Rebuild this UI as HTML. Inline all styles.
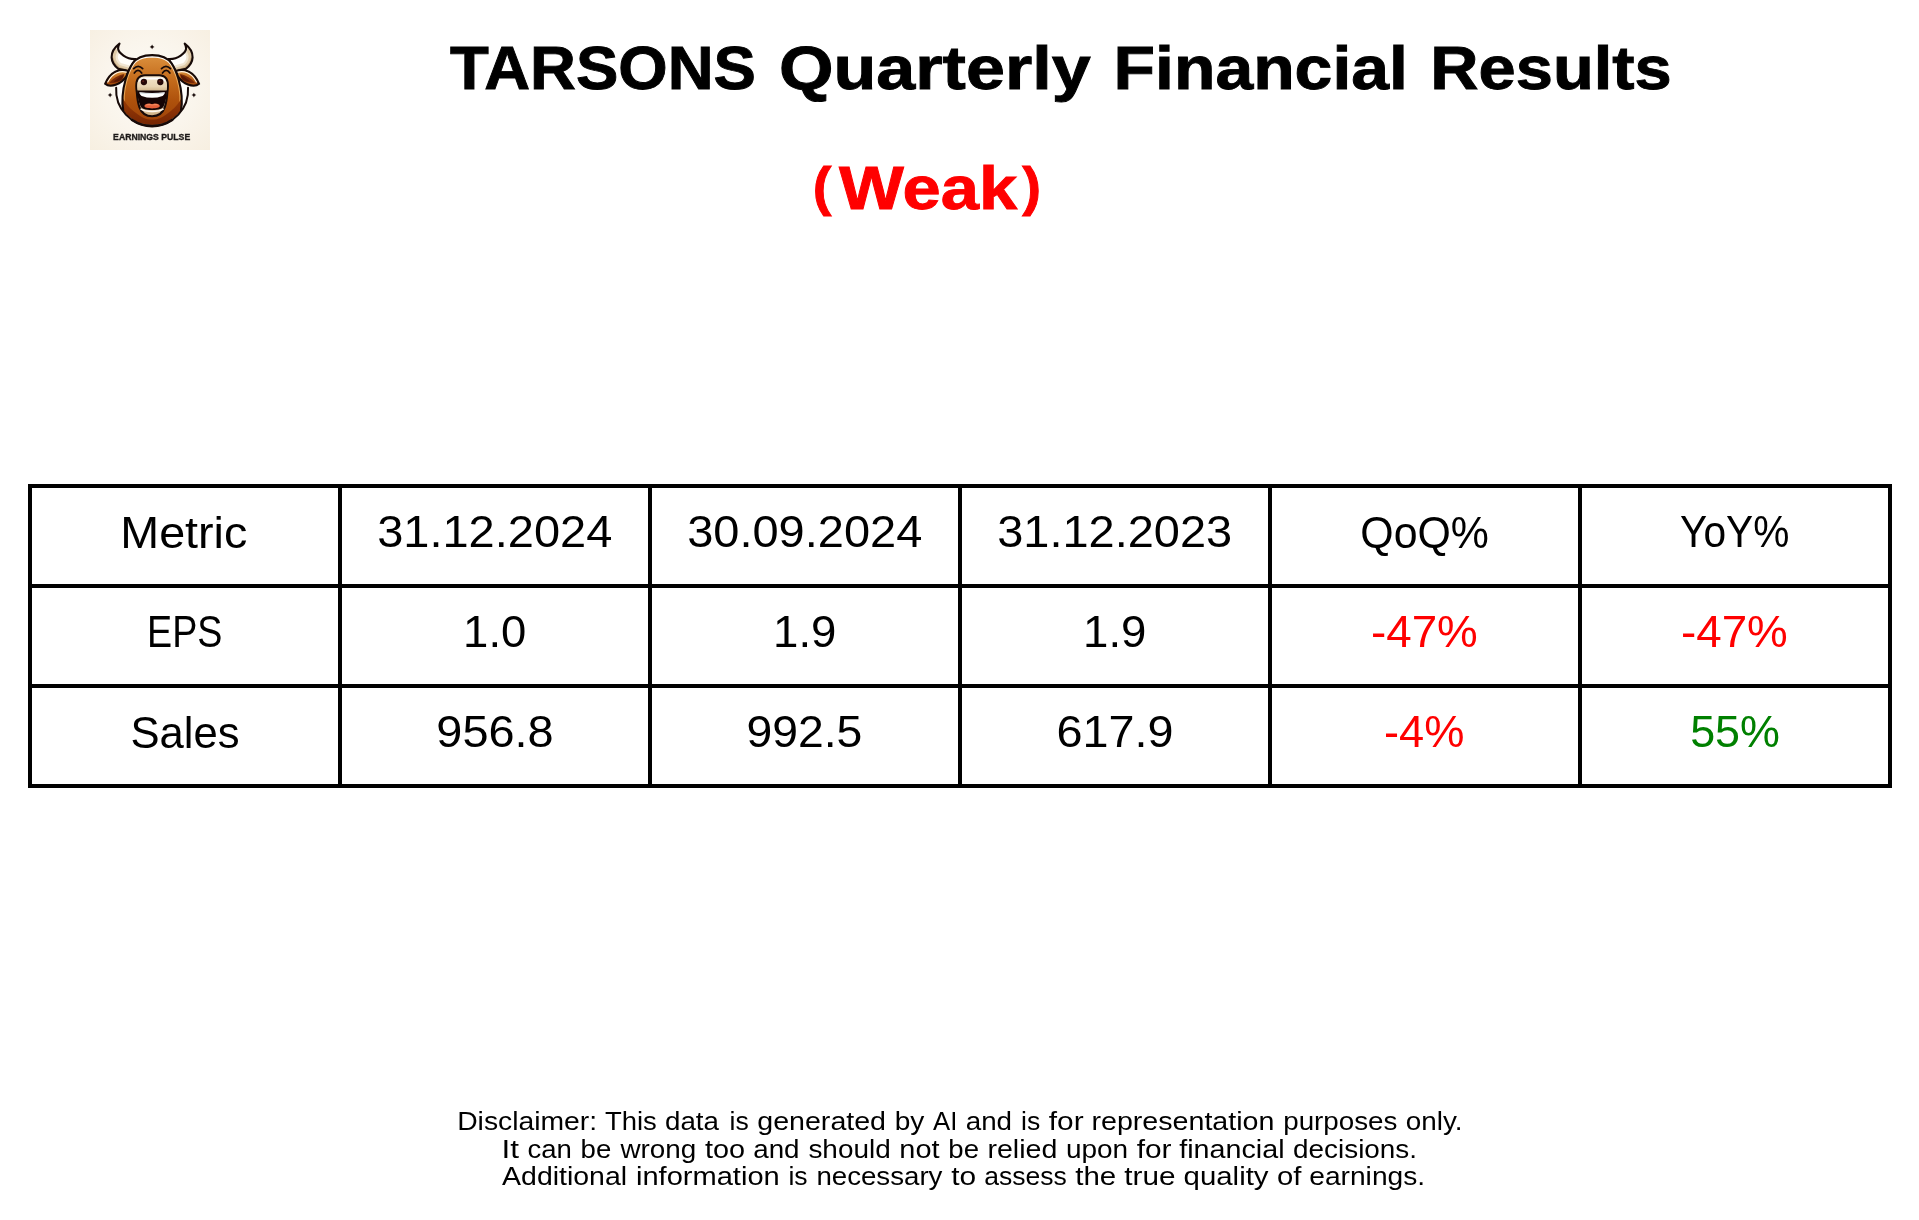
<!DOCTYPE html>
<html lang="en">
<head>
<meta charset="utf-8">
<title>TARSONS Quarterly Financial Results</title>
<style>
*{margin:0;padding:0;box-sizing:border-box}
html,body{background:#fff}
body{font-family:"Liberation Sans", sans-serif;will-change:transform}
.w{position:absolute;left:0;top:0;transform-origin:0 0;white-space:pre;line-height:1;font-kerning:normal}
html,body{width:1919px;height:1220px;overflow:hidden}
#page{position:relative;width:1919px;height:1220px;background:#fff;overflow:hidden}
#logo{position:absolute;left:90px;top:30px;width:120px;height:120px;display:block}
h1,h2,p{font-weight:inherit;font-size:inherit}
.t{font-size:60.5px;font-weight:700;color:#000;-webkit-text-stroke:0.9px currentColor}
.c{font-size:45px;font-weight:400;color:#000}
.d{font-size:26.5px;font-weight:400;color:#000}
.neg{color:#f00}
.pos{color:#008000}
table{margin:484px 0 0 28px;width:1864px;border-collapse:collapse;table-layout:fixed}
td,th{width:310px;height:100px;border:4px solid #000;font-weight:400}
</style>
</head>
<body>
<div id="page">
<svg id="logo" viewBox="0 0 120 120" width="120" height="120" role="img" aria-label="Earnings Pulse logo: laughing bull">
<defs>
<radialGradient id="lg-bg" cx="0.5" cy="0.47" r="0.72"><stop offset="0" stop-color="#fdfbf7"/><stop offset="0.55" stop-color="#faf5ec"/><stop offset="1" stop-color="#f7efe1"/></radialGradient>
<linearGradient id="lg-head" x1="0" y1="0" x2="0" y2="1"><stop offset="0" stop-color="#d98d3a"/><stop offset="0.3" stop-color="#c46c1c"/><stop offset="0.6" stop-color="#ae510c"/><stop offset="1" stop-color="#9a3f06"/></linearGradient>
<linearGradient id="lg-rim" x1="0" y1="0" x2="0" y2="1"><stop offset="0" stop-color="#ffffff"/><stop offset="0.13" stop-color="#fff4e0"/><stop offset="0.3" stop-color="#f0b263"/><stop offset="1" stop-color="#d98a34"/></linearGradient>
<linearGradient id="lg-neck" x1="0" y1="0" x2="0" y2="1"><stop offset="0" stop-color="#9c4007"/><stop offset="0.5" stop-color="#8a3205"/><stop offset="1" stop-color="#6e2102"/></linearGradient>
<linearGradient id="lg-earg" x1="0" y1="0" x2="0" y2="1"><stop offset="0" stop-color="#e09a45"/><stop offset="0.45" stop-color="#c06a1c"/><stop offset="1" stop-color="#9c4309"/></linearGradient>
<linearGradient id="lg-cream" x1="0" y1="0" x2="0" y2="1"><stop offset="0" stop-color="#f3e4c9"/><stop offset="0.7" stop-color="#e9d5b3"/><stop offset="1" stop-color="#d3b88d"/></linearGradient>
<linearGradient id="lg-jaw" x1="0" y1="0" x2="0" y2="1"><stop offset="0" stop-color="#f0dfc2"/><stop offset="0.8" stop-color="#e4cea8"/><stop offset="1" stop-color="#c9aa7c"/></linearGradient>
<clipPath id="lg-headclip"><path d="M33.2 80.2C32.4 76 32.2 71 32.6 66C33 60 34 55 35.6 49.5C37.2 44 39.2 38.5 42.6 33.4C46.5 27.6 54 25.1 62.1 25.1C70.2 25.1 77.7 27.6 81.6 33.4C85 38.5 87 44 88.6 49.5C90.2 55 91.2 60 91.6 66C92 71 91.8 76 91 80.2A36 36 0 0 1 33.2 80.2Z"/></clipPath>
<clipPath id="lg-hornclip"><path d="M29.5 13.6C24.8 17.2 21.4 22.4 21.6 27.4C21.8 32 24.6 36 28.4 38.9L38.5 41L45.5 29C41 29.2 36.8 27.9 33.5 25.6C30.4 23.4 28.3 20.6 28.1 18.6C27.9 16.8 28.6 15 29.5 13.6Z"/></clipPath>
</defs>
<rect width="120" height="120" fill="url(#lg-bg)"/>
<circle cx="62.1" cy="60" r="35.4" fill="#fefdfb"/>
<!-- horns -->
<g id="lg-hornL">
<path fill="#fffdf9" d="M29.5 13.6C24.8 17.2 21.4 22.4 21.6 27.4C21.8 32 24.6 36 28.4 38.9L38.5 41L45.5 29C41 29.2 36.8 27.9 33.5 25.6C30.4 23.4 28.3 20.6 28.1 18.6C27.9 16.8 28.6 15 29.5 13.6Z"/>
<g clip-path="url(#lg-hornclip)" fill="none" stroke-linecap="round">
<path stroke="#f1e6d2" stroke-width="12.5" d="M25.5 17.5C22.4 21 21.4 24.5 21.6 27.4C21.8 32 24.6 36 28.4 38.9L40 42"/>
<path stroke="#dfcaa8" stroke-width="8" d="M23 21.5C21.8 23.6 21.5 25.6 21.6 27.4C21.8 32 24.6 36 28.4 38.9L40 42"/>
<path stroke="#c2a57b" stroke-width="4" d="M21.8 29C22.4 33 25 36.4 28.4 38.9L40 42"/>
</g>
<path fill="none" stroke="#170a08" stroke-width="2.1" stroke-linejoin="round" d="M29.5 13.6C24.8 17.2 21.4 22.4 21.6 27.4C21.8 32 24.6 36 28.4 38.9L38.5 41L45.5 29C41 29.2 36.8 27.9 33.5 25.6C30.4 23.4 28.3 20.6 28.1 18.6C27.9 16.8 28.6 15 29.5 13.6Z"/>
</g>
<use href="#lg-hornL" transform="matrix(-1 0 0 1 124.2 0)"/>
<!-- ears -->
<g id="lg-earLg">
<path fill="url(#lg-earg)" stroke="#170a08" stroke-width="2.1" stroke-linejoin="round" d="M38 41.4C33.6 39.7 29 39.9 25.3 41.8C21.2 43.9 17.4 48.6 15.1 53.8C17.8 56.2 22.5 56 26.3 54.6C30.4 53 33.6 50.2 36.4 46.5Z"/>
<path d="M17.8 52C20.2 47.5 23.6 44.2 27 42.8C30 41.6 33.4 41.4 36.4 42.2" fill="none" stroke="#fff3df" stroke-width="1.2" stroke-linecap="round"/>
<path d="M19.4 53C22.8 48.6 28 45.3 34.2 44.1C33.8 46.6 32.8 48.8 31.4 50.4C27.6 52.5 23.4 53.3 19.4 53Z" fill="#7a2a07"/>
<path d="M23.5 51.8C26.5 49.1 30 46.6 33.8 45.1C33.4 46.9 32.6 48.6 31.4 50C28.6 51.3 26 51.8 23.5 51.8Z" fill="#581904"/>
</g>
<use href="#lg-earLg" transform="matrix(-1 0 0 1 124.2 0)"/>
<!-- head + neck -->
<path d="M33.2 80.2C32.4 76 32.2 71 32.6 66C33 60 34 55 35.6 49.5C37.2 44 39.2 38.5 42.6 33.4C46.5 27.6 54 25.1 62.1 25.1C70.2 25.1 77.7 27.6 81.6 33.4C85 38.5 87 44 88.6 49.5C90.2 55 91.2 60 91.6 66C92 71 91.8 76 91 80.2A36 36 0 0 1 33.2 80.2Z" fill="url(#lg-rim)"/>
<g clip-path="url(#lg-headclip)">
<path d="M34.8 100L34.8 66C35.2 60 36.2 55 37.6 50C39.1 44.6 41 39.6 44 35C47.6 29.6 54.4 27.8 62.1 27.8C69.8 27.8 76.6 29.6 80.2 35C83.2 39.6 85.1 44.6 86.6 50C88 55 89 60 89.4 66L89.4 100Z" fill="url(#lg-head)"/>
<path d="M30 62C32.5 69.5 37.5 76.6 43.7 81.3C46.8 83.8 49.9 86.2 52.9 87.4C56 88.9 59 89.6 62.1 89.6C65.2 89.6 68.2 88.9 71.3 87.4C74.3 86.2 77.4 83.8 80.5 81.3C86.7 76.6 91.7 69.5 94.2 62L96 100L28 100Z" fill="url(#lg-neck)"/>
</g>
<g fill="none" stroke="#170a08" stroke-linecap="round" stroke-linejoin="round">
<path stroke-width="2.1" d="M33.2 80.2C32.4 76 32.2 71 32.6 66C33 60 34 55 35.6 49.5C37.2 44 39.2 38.5 42.6 33.4C46.5 27.6 54 25.1 62.1 25.1C70.2 25.1 77.7 27.6 81.6 33.4C85 38.5 87 44 88.6 49.5C90.2 55 91.2 60 91.6 66C92 71 91.8 76 91 80.2"/>
<!-- ring -->
<path stroke-width="2" d="M26.17 57.7A36 36 0 1 0 98.03 57.7"/>
<path stroke-width="2.7" d="M42.1 90A36 36 0 0 0 82.1 90"/>
<!-- eyes -->
<g stroke-width="1.7">
<path d="M43.7 38.7Q48.2 33.9 52.7 38.7"/><path d="M44.3 43.1Q48 37.7 51.7 43.1"/>
<path d="M80.5 38.7Q76 33.9 71.5 38.7"/><path d="M79.9 43.1Q76.2 37.7 72.5 43.1"/>
</g>
</g>
<!-- muzzle: nose + mouth + jaw -->
<path d="M46.3 56C46.3 50 48 45.4 55 45.4L69.2 45.4C76.2 45.4 77.9 50 77.9 56C77.9 58.5 77.7 60 77.4 62C77 68 76.4 72.5 74.8 77.2C72.9 82.6 68.9 86.3 62.1 86.3C55.3 86.3 51.3 82.6 49.4 77.2C47.8 72.5 47.2 68 46.8 62C46.5 60 46.3 58.5 46.3 56Z" fill="url(#lg-jaw)" stroke="#170a08" stroke-width="2.1" stroke-linejoin="round"/>
<path d="M47.3 56C47.3 50.5 48.9 46.4 55 46.4L69.2 46.4C75.3 46.4 76.9 50.5 76.9 56C76.9 58 76.7 59.4 76.4 60.6L47.8 60.6C47.5 59.4 47.3 58 47.3 56Z" fill="url(#lg-cream)"/>
<path d="M48.5 52.8C48.5 48.9 50.7 47.4 55 47.4L69.2 47.4C73.5 47.4 75.7 48.9 75.7 52.8C73.9 50 71 49.6 62.1 49.6C53.2 49.6 50.3 50 48.5 52.8Z" fill="#ffffff"/>
<circle cx="53.9" cy="52" r="3.15" fill="#260a08"/><circle cx="70.3" cy="52" r="3.15" fill="#260a08"/>
<circle cx="53.2" cy="51.2" r="1.05" fill="#5a1c17"/><circle cx="69.6" cy="51.2" r="1.05" fill="#5a1c17"/>
<!-- mouth -->
<path d="M47.2 60.4L77 60.4C76.7 66 75.6 71.5 74 75.4C72.6 78.8 69.4 80 62.1 80C54.8 80 51.6 78.8 50.2 75.4C48.6 71.5 47.5 66 47.2 60.4Z" fill="#150404"/>
<path d="M49.3 62.3Q62.1 63.7 74.9 62.3C74.6 64.1 73.7 65.5 72.6 65.9Q62.1 69.6 51.6 65.9C50.5 65.5 49.6 64.1 49.3 62.3Z" fill="#ffffff"/>
<path d="M49.6 62.5Q62.1 63.9 74.6 62.5L74.3 63.4Q62.1 64.7 49.9 63.4Z" fill="#d9e0e4"/>
<path d="M54.4 76.1C54.4 74.2 57.1 73.2 59.8 73.5C61 73.65 61.6 74.2 62.1 74.2C62.6 74.2 63.2 73.65 64.4 73.5C67.1 73.2 69.8 74.2 69.8 76.1C69.8 77.6 66.4 78.4 62.1 78.4C57.8 78.4 54.4 77.6 54.4 76.1Z" fill="#e6603a"/>
<path d="M55.4 75.7C55.8 74.5 57.7 73.9 59.8 74.1C61 74.25 61.6 74.8 62.1 74.8C62.6 74.8 63.2 74.25 64.4 74.1C66.5 73.9 68.4 74.5 68.8 75.7C66.4 75 64.5 75.4 62.1 75.6C59.7 75.4 57.8 75 55.4 75.7Z" fill="#f48a5e"/>
<path d="M51 79.2C53.8 81 58 81.5 62.1 81.5C66.2 81.5 70.4 81 73.2 79.2" fill="none" stroke="#fffaf0" stroke-width="1.4" stroke-linecap="round"/>
<!-- sparkles -->
<g fill="#170a08">
<path id="lg-sp" d="M62.1 14.5Q62.5 16.5 64.5 16.9Q62.5 17.3 62.1 19.3Q61.7 17.3 59.7 16.9Q61.7 16.5 62.1 14.5Z"/>
<use href="#lg-sp" x="-42" y="48.2"/><use href="#lg-sp" x="41.8" y="48.2"/>
</g>
<text x="23.1" y="109.55" font-family="Liberation Sans, sans-serif" font-weight="700" font-size="9.6" fill="#1d1a19" stroke="#1d1a19" stroke-width="0.35" textLength="77.1" lengthAdjust="spacingAndGlyphs">EARNINGS PULSE</text>
</svg>

<h1><span class="w t" style="transform:matrix(1.0497,0,0,1,450.08,38.26)">TARSONS</span> <span class="w t" style="transform:matrix(1.1585,0,0,1,779.00,38.26)">Quarterly</span> <span class="w t" style="transform:matrix(1.1222,0,0,1,1113.58,38.26)">Financial</span> <span class="w t" style="transform:matrix(1.1048,0,0,1,1430.27,38.26)">Results</span></h1>
<h2><span class="w t neg" style="font-size:53.54px;transform:matrix(1.0472,0,0,1,812.71,159.90)">(</span><span class="w t neg" style="transform:matrix(1.1355,0,0,1,838.89,158.16)">Weak</span><span class="w t neg" style="font-size:53.54px;transform:matrix(1.0547,0,0,1,1022.14,159.90)">)</span></h2>
<table>
<tr><th><span class="w c" style="transform:matrix(1.0369,0,0,1,120.29,510.00)">Metric</span></th><th><span class="w c" style="transform:matrix(1.0438,0,0,1,377.20,509.00)">31.12.2024</span></th><th><span class="w c" style="transform:matrix(1.0438,0,0,1,687.20,509.00)">30.09.2024</span></th><th><span class="w c" style="transform:matrix(1.0429,0,0,1,997.20,509.00)">31.12.2023</span></th><th><span class="w c" style="transform:matrix(0.9525,0,0,1,1360.32,510.00)">QoQ%</span></th><th><span class="w c" style="transform:matrix(0.9032,0,0,1,1680.04,509.00)">YoY%</span></th></tr>
<tr><td><span class="w c" style="transform:matrix(0.8369,0,0,1,147.03,609.00)">EPS</span></td><td><span class="w c" style="transform:matrix(1.0112,0,0,1,463.09,609.00)">1.0</span></td><td><span class="w c" style="transform:matrix(1.0134,0,0,1,773.08,609.00)">1.9</span></td><td><span class="w c" style="transform:matrix(1.0134,0,0,1,1083.08,609.00)">1.9</span></td><td><span class="w c neg" style="transform:matrix(1.0171,0,0,1,1370.97,609.00)">-47%</span></td><td><span class="w c neg" style="transform:matrix(1.0171,0,0,1,1680.97,609.00)">-47%</span></td></tr>
<tr><td><span class="w c" style="transform:matrix(0.9691,0,0,1,130.48,710.00)">Sales</span></td><td><span class="w c" style="transform:matrix(1.0409,0,0,1,436.35,709.00)">956.8</span></td><td><span class="w c" style="transform:matrix(1.0294,0,0,1,746.38,709.00)">992.5</span></td><td><span class="w c" style="transform:matrix(1.0388,0,0,1,1056.48,709.00)">617.9</span></td><td><span class="w c neg" style="transform:matrix(1.0047,0,0,1,1383.99,709.00)">-4%</span></td><td><span class="w c pos" style="transform:matrix(0.9967,0,0,1,1690.16,709.00)">55%</span></td></tr>
</table>
<p><span class="w d" style="transform:matrix(1.0684,0,0,1,457.16,1108.00)">Disclaimer:</span> <span class="w d" style="transform:matrix(1.0361,0,0,1,604.88,1108.00)">This</span> <span class="w d" style="transform:matrix(1.0449,0,0,1,665.06,1108.00)">data</span> <span class="w d" style="transform:matrix(1.0017,0,0,1,729.60,1108.00)">is</span> <span class="w d" style="transform:matrix(1.0787,0,0,1,757.27,1108.00)">generated</span> <span class="w d" style="transform:matrix(1.0598,0,0,1,894.66,1108.00)">by</span> <span class="w d" style="transform:matrix(0.9709,0,0,1,933.01,1108.00)">AI</span> <span class="w d" style="transform:matrix(1.0479,0,0,1,965.73,1108.00)">and</span> <span class="w d" style="transform:matrix(1.0017,0,0,1,1021.10,1108.00)">is</span> <span class="w d" style="transform:matrix(1.1251,0,0,1,1048.81,1108.00)">for</span> <span class="w d" style="transform:matrix(1.0801,0,0,1,1091.44,1108.00)">representation</span> <span class="w d" style="transform:matrix(1.0483,0,0,1,1283.18,1108.00)">purposes</span> <span class="w d" style="transform:matrix(1.0519,0,0,1,1405.78,1108.00)">only.</span><br>
<span class="w d" style="transform:matrix(1.1849,0,0,1,501.58,1136.00)">It</span> <span class="w d" style="transform:matrix(1.0388,0,0,1,527.41,1136.00)">can</span> <span class="w d" style="transform:matrix(1.0410,0,0,1,580.56,1136.00)">be</span> <span class="w d" style="transform:matrix(1.0507,0,0,1,620.44,1136.00)">wrong</span> <span class="w d" style="transform:matrix(1.0880,0,0,1,704.91,1136.00)">too</span> <span class="w d" style="transform:matrix(1.0479,0,0,1,753.23,1136.00)">and</span> <span class="w d" style="transform:matrix(1.0539,0,0,1,808.39,1136.00)">should</span> <span class="w d" style="transform:matrix(1.0921,0,0,1,899.29,1136.00)">not</span> <span class="w d" style="transform:matrix(1.0410,0,0,1,948.31,1136.00)">be</span> <span class="w d" style="transform:matrix(1.0786,0,0,1,987.45,1136.00)">relied</span> <span class="w d" style="transform:matrix(1.0556,0,0,1,1065.93,1136.00)">upon</span> <span class="w d" style="transform:matrix(1.1255,0,0,1,1136.68,1136.00)">for</span> <span class="w d" style="transform:matrix(1.0833,0,0,1,1179.20,1136.00)">financial</span> <span class="w d" style="transform:matrix(1.0522,0,0,1,1293.05,1136.00)">decisions.</span><br>
<span class="w d" style="transform:matrix(1.0736,0,0,1,502.10,1163.00)">Additional</span> <span class="w d" style="transform:matrix(1.0971,0,0,1,635.93,1163.00)">information</span> <span class="w d" style="transform:matrix(1.0011,0,0,1,788.48,1163.00)">is</span> <span class="w d" style="transform:matrix(1.0437,0,0,1,816.38,1163.00)">necessary</span> <span class="w d" style="transform:matrix(1.1277,0,0,1,951.15,1163.00)">to</span> <span class="w d" style="transform:matrix(1.0012,0,0,1,984.29,1163.00)">assess</span> <span class="w d" style="transform:matrix(1.1110,0,0,1,1075.28,1163.00)">the</span> <span class="w d" style="transform:matrix(1.1197,0,0,1,1124.28,1163.00)">true</span> <span class="w d" style="transform:matrix(1.1083,0,0,1,1183.61,1163.00)">quality</span> <span class="w d" style="transform:matrix(1.1045,0,0,1,1277.09,1163.00)">of</span> <span class="w d" style="transform:matrix(1.0629,0,0,1,1309.25,1163.00)">earnings.</span></p>
</div>
</body>
</html>
